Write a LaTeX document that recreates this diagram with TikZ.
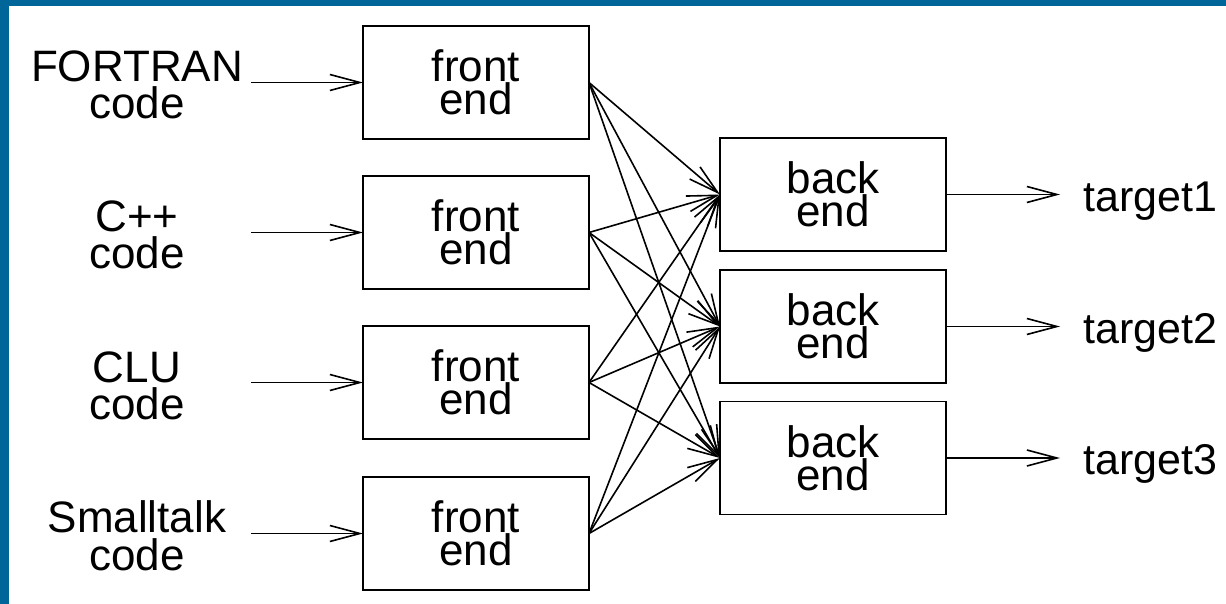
\documentclass[tikz,border=0pt]{standalone}
\usepackage{fontspec}
\setmainfont{Liberation Sans}
\usetikzlibrary{arrows.meta}
\definecolor{frameblue}{RGB}{0,102,153}
\tikzset{
  box/.style={draw, line width=1.8pt, minimum width=226pt, minimum height=113pt,
    inner sep=0pt, outer sep=0pt, align=center},
  fetext/.style={box, font=\fontsize{44}{33}\selectfont},
  betext/.style={box, font=\fontsize{44}{29.5}\selectfont},
  lbl/.style={align=center, inner sep=0pt, font=\fontsize{44}{37.5}\selectfont},
  tgt/.style={anchor=base west, inner sep=0pt, font=\fontsize{43}{43}\selectfont},
  conn/.style={line width=1.6pt, -{Straight Barb[length=30pt, width=16pt, line width=1.6pt]}}
}
\begin{document}
\begin{tikzpicture}[x=1pt, y=-1pt]
\useasboundingbox (0,0) rectangle (1226,604);
\fill[frameblue] (0,0) rectangle (9,604);
\fill[frameblue] (0,0) rectangle (1226,6);

% front ends
\node[fetext] (fe1) at (476,82.5) {front\\end};
\node[fetext] (fe2) at (476,232.5) {front\\end};
\node[fetext] (fe3) at (476,382.5) {front\\end};
\node[fetext] (fe4) at (476,533.5) {front\\end};

% back ends
\node[betext] (be1) at (833,194.5) {back\\end};
\node[betext] (be2) at (833,326.5) {back\\end};
\node[betext] (be3) at (833,458) {back\\end};

% input labels
\node[lbl] (l1) at (137,85) {FORTRAN\\code};
\node[lbl] (l2) at (137,235) {C++\\code};
\node[lbl] (l3) at (137,386) {CLU\\code};
\node[lbl] (l4) at (137,536) {Smalltalk\\code};

\coordinate (i1) at (251,82.5);
\coordinate (i2) at (251,232.5);
\coordinate (i3) at (251,382.5);
\coordinate (i4) at (251,533.5);

\foreach \k in {1,2,3,4} {
  \draw[conn] (i\k) -- (fe\k.west);
}

% cross connections
\foreach \a in {1,2,3,4} {
  \foreach \b in {1,2,3} {
    \draw[conn] (fe\a.east) -- (be\b.west);
  }
}

% outputs
\coordinate (o1) at (1060,194.5);
\coordinate (o2) at (1060,326.5);
\coordinate (o3) at (1060,458);
\foreach \k in {1,2,3} {
  \draw[conn] (be\k.east) -- (o\k);
}
\node[tgt] (t1) at (1083,212) {target1};
\node[tgt] (t2) at (1083,343) {target2};
\node[tgt] (t3) at (1083,474) {target3};
\end{tikzpicture}
\end{document}
